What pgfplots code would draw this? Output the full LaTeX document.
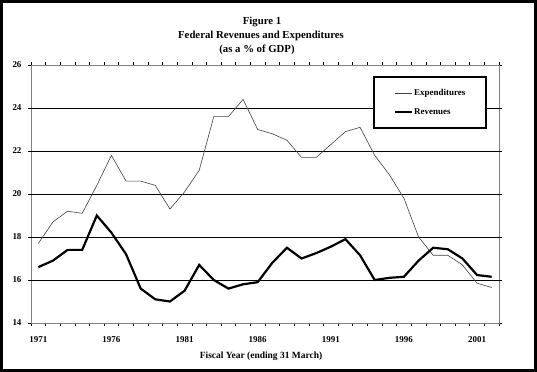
\documentclass[border=0pt]{standalone}
\usepackage{fontspec}
\setmainfont{Liberation Serif}
\usepackage{pgfplots}
\pgfplotsset{compat=1.18}
\begin{document}
\begin{tikzpicture}
\draw[line width=3bp] (1.5bp,1.5bp) rectangle (535.5bp,370.5bp);
\begin{axis}[
  at={(31bp,49bp)}, anchor=south west,
  scale only axis, width=468bp, height=258bp,
  xmin=1970.5, xmax=2002.5, ymin=14, ymax=26,
  /pgf/number format/assume math mode=true,
  /pgf/number format/1000 sep={},
  axis line style={black!50, line width=0.8pt},
  tick align=outside, major tick length=3bp,
  tick style={black, line width=0.6pt},
  xtick={1970.5,1971.5,...,2002.5}, xticklabels={},
  extra x ticks={1971,1976,1981,1986,1991,1996,2001},
  extra x tick labels={1971,1976,1981,1986,1991,1996,2001},
  extra x tick style={major tick length=0pt},
  ytick={14,16,...,26},
  extra y ticks={16,18,20,22,24}, extra y tick labels={},
  extra y tick style={grid=major, major grid style={black, line width=0.7pt}},
  ticklabel style={font=\bfseries\fontsize{9}{10}\selectfont},
  xticklabel style={yshift=-10bp},
  yticklabel style={xshift=-3bp},
  legend style={at={(rel axis cs:0.731,0.957)}, anchor=north west,
    draw=black, line width=1.8pt, inner xsep=20bp, inner ysep=11bp,
    row sep=10bp, column sep=0pt, font=\bfseries\fontsize{9}{10}\selectfont,
    nodes={inner sep=1bp}},
  legend cell align=left,
]
\addplot[black!75, line width=0.6pt] coordinates {
(1971,17.7)(1972,18.7)(1973,19.2)(1974,19.1)(1975,20.4)(1976,21.8)(1977,20.6)(1978,20.6)
(1979,20.4)(1980,19.3)(1981,20.1)(1982,21.1)(1983,23.6)(1984,23.6)(1985,24.4)(1986,23.0)
(1987,22.8)(1988,22.5)(1989,21.7)(1990,21.7)(1991,22.3)(1992,22.9)(1993,23.1)(1994,21.8)
(1995,20.9)(1996,19.8)(1997,18.0)(1998,17.15)(1999,17.15)(2000,16.7)(2001,15.85)(2002,15.65)
};
\addlegendentry{Expenditures}
\addplot[black, line width=2.2pt] coordinates {
(1971,16.6)(1972,16.9)(1973,17.4)(1974,17.4)(1975,19.0)(1976,18.2)(1977,17.2)(1978,15.6)
(1979,15.1)(1980,15.0)(1981,15.5)(1982,16.7)(1983,16.0)(1984,15.6)(1985,15.8)(1986,15.9)
(1987,16.8)(1988,17.5)(1989,17.0)(1990,17.25)(1991,17.55)(1992,17.9)(1993,17.15)(1994,16.0)
(1995,16.1)(1996,16.15)(1997,16.9)(1998,17.5)(1999,17.43)(2000,17.0)(2001,16.23)(2002,16.15)
};
\addlegendentry{Revenues}
\end{axis}
\node[font=\bfseries\fontsize{10.8}{12}\selectfont] at (262bp,350.3bp) {Figure 1};
\node[font=\bfseries\fontsize{10.8}{12}\selectfont] at (261bp,336bp) {Federal Revenues and Expenditures};
\node[font=\bfseries\fontsize{10.8}{12}\selectfont] at (257bp,322bp) {(as a \% of GDP)};
\node[font=\bfseries\fontsize{9.5}{11}\selectfont] at (261bp,16bp) {Fiscal Year (ending 31 March)};
\end{tikzpicture}
\end{document}
